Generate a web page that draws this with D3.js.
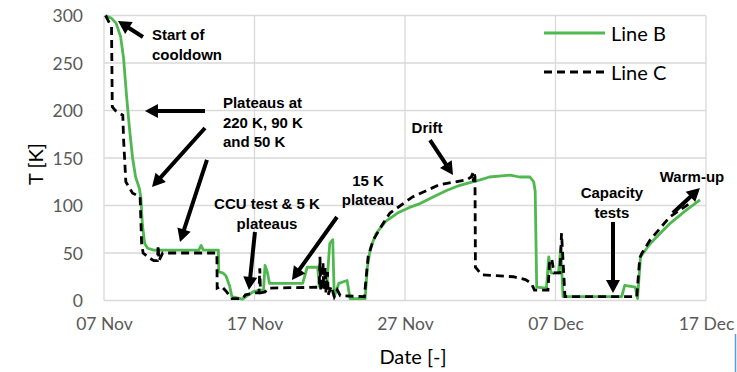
<!DOCTYPE html>
<html>
<head>
<meta charset="utf-8">
<script src="https://cdn.jsdelivr.net/npm/d3@7"></script>
<style>
  body { margin: 0; background: #fff; }
  svg { display: block; }
</style>
</head>
<body>
<div id="chart"></div>
<script>
// days after 07 Nov, temperature in K
const lineB = [
  [0.1, 300], [0.5, 297], [0.8, 292], [1.1, 278], [1.3, 255], [1.5, 215], [1.7, 180],
  [1.9, 150], [2.1, 130], [2.35, 118], [2.45, 108], [2.55, 80], [2.7, 60], [2.9, 55],
  [3.3, 53], [6.3, 53], [6.45, 58], [6.6, 53], [7.6, 53], [7.62, 30], [7.9, 29],
  [8.1, 26], [8.35, 15], [8.5, 4], [9.2, 1.5], [9.6, 6], [9.9, 9], [10.3, 11],
  [10.6, 11], [10.7, 37], [10.85, 30], [11.0, 18], [13.2, 18], [13.5, 35], [14.2, 35],
  [14.3, 15], [14.8, 15], [15.0, 60], [15.2, 64], [15.3, 4], [15.6, 18], [16.15, 21],
  [16.35, 2], [17.35, 2], [17.5, 35], [17.7, 55], [18.1, 71], [18.7, 83], [19.5, 92],
  [20.3, 98], [21, 102], [22, 110], [22.8, 116], [23.6, 121], [24.3, 124], [25, 127],
  [25.6, 130], [27, 132], [27.6, 130], [28.3, 130], [28.55, 125], [28.65, 115],
  [28.75, 14], [29.4, 13], [29.55, 46], [29.7, 29], [30.2, 29], [30.35, 55], [30.5, 4],
  [34.4, 4], [34.6, 16], [35.3, 14], [35.45, 2], [35.65, 46], [36.3, 60], [37.6, 81],
  [38.6, 94], [39.6, 106]
];

const lineC = [
  [0.1, 300], [0.5, 288], [0.55, 204], [0.75, 200], [1.25, 195], [1.3, 170], [1.45, 125],
  [1.9, 113], [2.4, 109], [2.5, 60], [2.6, 50], [3.0, 45], [3.3, 42], [3.55, 42],
  [3.6, 58], [3.65, 42], [3.9, 50], [7.5, 50], [7.52, 13], [7.8, 15], [8.1, 10],
  [8.4, 4], [8.5, 2], [9.2, 2], [9.4, 6], [10.0, 8], [10.3, 8], [10.35, 34], [10.4, 8],
  [10.7, 9], [10.9, 13], [14.3, 14], [14.35, 46], [14.4, 10], [14.55, 40], [14.6, 12],
  [14.7, 35], [14.75, 8], [14.85, 30], [14.9, 6], [15.1, 15], [15.3, 4], [15.5, 11],
  [15.7, 5], [17.3, 4], [17.55, 46], [17.9, 64], [18.5, 80], [19, 92], [20.5, 109],
  [22.3, 122], [24.1, 127], [24.4, 130], [24.5, 134], [24.55, 125], [24.6, 134],
  [24.65, 130], [24.68, 35], [25.1, 27], [27.2, 25], [28, 22], [28.4, 18], [28.6, 11],
  [29.5, 11], [29.6, 39], [29.75, 44], [29.9, 29], [30.3, 29], [30.4, 71], [30.63, 4],
  [35.4, 4], [35.6, 45], [35.75, 50], [36.3, 64], [37.6, 88], [38.9, 102]
];

const yTicks = [0, 50, 100, 150, 200, 250, 300];
const xTickDays = [0, 10, 20, 30, 40];

// annotation text: [day, T, anchor, lines]
const notes = [
  [3.19, 279.5, "start", ["Start of", "cooldown"]],
  [7.9, 207.9, "start", ["Plateaus at", "220 K, 90 K", "and 50 K"]],
  [10.83, 101.6, "middle", ["CCU test & 5 K", "plateaus"]],
  [17.54, 126.8, "middle", ["15 K", "plateau"]],
  [21.46, 182.6, "middle", ["Drift"]],
  [33.75, 113.2, "middle", ["Capacity", "tests"]],
  [39.07, 131, "middle", ["Warm-up"]]
];

// arrows: [fromDay, fromT, toDay, toT]
const arrows = [
  [2.59, 277.4, 0.93, 294.2],
  [6.71, 199.5, 2.72, 199.5],
  [6.71, 181.6, 3.19, 119.5],
  [6.84, 147.9, 5.05, 61.6],
  [10.03, 72.1, 9.63, 11.1],
  [15.48, 87.9, 12.49, 21.6],
  [21.66, 168.9, 23.19, 132.1],
  [33.82, 82.6, 33.82, 7.9],
  [37.8, 92.1, 39.6, 118.4]
];

const W = 737, H = 372;
const margin = {left: 104, right: 31, top: 15.5, bottom: 71.5};
const start = Date.UTC(2020, 10, 7);
const toDate = d => new Date(start + d * 864e5);

const svg = d3.select("#chart").append("svg")
  .attr("width", W).attr("height", H);

svg.append("rect").attr("width", W).attr("height", H).attr("fill", "#fff");

const x = d3.scaleUtc()
  .domain([toDate(0), toDate(40)])
  .range([margin.left, W - margin.right]);
const y = d3.scaleLinear()
  .domain([0, 300])
  .range([H - margin.bottom, margin.top]);

const font = "Lato, 'Open Sans', sans-serif";

// grid
svg.append("g")
  .selectAll("line.h")
  .data(yTicks)
  .enter().append("line")
  .attr("x1", x.range()[0]).attr("x2", x.range()[1])
  .attr("y1", d => y(d)).attr("y2", d => y(d))
  .attr("stroke", "#d9d9d9").attr("stroke-width", 1.3);

svg.append("g")
  .selectAll("line.v")
  .data(xTickDays)
  .enter().append("line")
  .attr("x1", d => x(toDate(d))).attr("x2", d => x(toDate(d)))
  .attr("y1", y(0)).attr("y2", y(300))
  .attr("stroke", "#d9d9d9").attr("stroke-width", 1.3);

// axes (labels only)
const yAxis = svg.append("g")
  .attr("transform", `translate(${margin.left},0)`)
  .call(d3.axisLeft(y).tickValues(yTicks).tickSize(0).tickPadding(21));
const xAxis = svg.append("g")
  .attr("transform", `translate(0,${y(0)})`)
  .call(d3.axisBottom(x).tickValues(xTickDays.map(toDate))
    .tickFormat(d3.utcFormat("%d %b")).tickSize(0).tickPadding(17));
[yAxis, xAxis].forEach(g => {
  g.select(".domain").remove();
  g.selectAll("text")
    .attr("fill", "#595959")
    .style("font-family", font)
    .style("font-size", "17.5px");
});
yAxis.selectAll("text").attr("dy", "0.36em");

// axis titles
svg.append("text")
  .attr("transform", `translate(35,${(y(0) + y(300)) / 2 + 6}) rotate(-90)`)
  .attr("text-anchor", "middle")
  .attr("dominant-baseline", "central")
  .style("font-family", font).style("font-size", "20px")
  .text("T [K]");
svg.append("text")
  .attr("x", (x.range()[0] + x.range()[1]) / 2 + 8)
  .attr("y", 356)
  .attr("text-anchor", "middle")
  .attr("dominant-baseline", "central")
  .style("font-family", font).style("font-size", "20px")
  .text("Date [-]");

// lines
const line = d3.line()
  .x(d => x(toDate(d[0])))
  .y(d => y(d[1]));

svg.append("path")
  .datum(lineB)
  .attr("d", line)
  .attr("fill", "none")
  .attr("stroke", "#4fb84f")
  .attr("stroke-width", 2.8)
  .attr("stroke-linejoin", "round");

svg.append("path")
  .datum(lineC)
  .attr("d", line)
  .attr("fill", "none")
  .attr("stroke", "#000")
  .attr("stroke-width", 2.8)
  .attr("stroke-dasharray", "8,5");

// legend
const legend = svg.append("g");
[["Line B", "#4fb84f", null, 33], ["Line C", "#000", "8,5", 72]].forEach(([name, col, dash, ly]) => {
  legend.append("line")
    .attr("x1", 544).attr("x2", 605).attr("y1", ly).attr("y2", ly)
    .attr("stroke", col).attr("stroke-width", 2.8)
    .attr("stroke-dasharray", dash);
  legend.append("text")
    .attr("x", 611).attr("y", ly)
    .attr("dominant-baseline", "central")
    .style("font-family", font).style("font-size", "20px")
    .text(name);
});

// annotations
const ann = svg.append("g");
notes.forEach(([d, t, anchor, lines]) => {
  lines.forEach((s, i) => {
    ann.append("text")
      .attr("x", x(toDate(d)))
      .attr("y", y(t) + i * 19.5)
      .attr("text-anchor", anchor)
      .attr("dominant-baseline", "central")
      .style("font-family", "'Liberation Sans', Arial, sans-serif")
      .style("font-weight", "bold")
      .style("font-size", "15px")
      .text(s);
  });
});

function arrowPath(x1, y1, x2, y2) {
  const dx = x2 - x1, dy = y2 - y1;
  const len = Math.sqrt(dx * dx + dy * dy);
  const ux = dx / len, uy = dy / len;
  const px = -uy, py = ux;
  const hl = 13, hw = 7, sw = 2;
  const bx = x2 - ux * hl, by = y2 - uy * hl;
  const pts = [
    [x1 + px * sw, y1 + py * sw],
    [bx + px * sw, by + py * sw],
    [bx + px * hw, by + py * hw],
    [x2, y2],
    [bx - px * hw, by - py * hw],
    [bx - px * sw, by - py * sw],
    [x1 - px * sw, y1 - py * sw]
  ];
  return "M" + pts.map(p => p.join(",")).join("L") + "Z";
}

ann.selectAll("path.arrow")
  .data(arrows)
  .enter().append("path")
  .attr("class", "arrow")
  .attr("d", a => arrowPath(x(toDate(a[0])), y(a[1]), x(toDate(a[2])), y(a[3])))
  .attr("fill", "#000");

// small blue edge artefact at bottom right
svg.append("line")
  .attr("x1", 735.5).attr("x2", 735.5).attr("y1", 334).attr("y2", 372)
  .attr("stroke", "#5b9bd5").attr("stroke-width", 1.5);
</script>
</body>
</html>
